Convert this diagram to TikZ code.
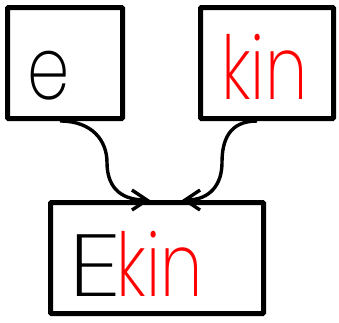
\documentclass[tikz,border=0pt]{standalone}
\usepackage{fontspec}
\setmainfont{Poppins ExtraLight}
\usetikzlibrary{arrows.meta}

\begin{document}
\begin{tikzpicture}[x=1pt, y=-1pt,
  box/.style={draw, line width=5pt, rounded corners=1pt, inner sep=0pt, minimum height=111pt},
  word/.style={anchor=base west, inner sep=0pt, xscale=0.77, transform shape, font=\fontsize{88}{88}\selectfont},
  link/.style={line width=3.4pt, -{Straight Barb[length=15pt, width=20pt, line width=3.4pt]}}]
  \useasboundingbox (0,0) rectangle (339,322);
  % boxes
  \node[box, minimum width=115pt] (e) at (65,63) {};
  \node[box, minimum width=133pt] (kin) at (267,63) {};
  \node[box, minimum width=213pt] (ekin) at (157,258) {};
  % words
  \node[word] (eword) at (27,99) {e};
  \node[word, text=red] (kinword) at (221,99) {kin};
  \node[word, xscale=1.6] (capE) at (68,296) {E};
  \node[word, text=red] (ekinword) at ([xshift=-5pt]capE.base east) {kin};
  % links
  \draw[link] ([xshift=-5pt]e.south) .. controls +(32,0) and +(0,-22) .. ++(47,41.5)
    .. controls +(0,22) and +(-32,0) .. ([xshift=-7pt]ekin.north);
  \draw[link] ([xshift=-10pt]kin.south) .. controls +(-28,0) and +(0,-22) .. ++(-35,41.5)
    .. controls +(0,22) and +(28,0) .. ([xshift=25pt]ekin.north);
\end{tikzpicture}
\end{document}
